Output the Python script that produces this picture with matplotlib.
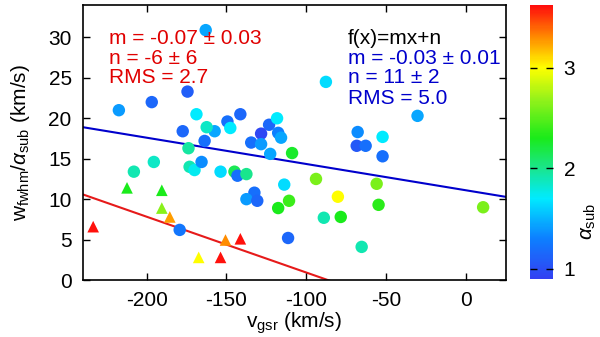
import numpy as np
import matplotlib
matplotlib.use("Agg")
import matplotlib.pyplot as plt
from matplotlib.colors import LinearSegmentedColormap, Normalize

plt.rcParams['font.family'] = ['Liberation Sans', 'DejaVu Sans']
plt.rcParams['mathtext.fontset'] = 'custom'
plt.rcParams['mathtext.rm'] = 'Liberation Sans'
plt.rcParams['mathtext.it'] = 'Liberation Sans:italic'
plt.rcParams['mathtext.sf'] = 'Liberation Sans'
plt.rcParams['axes.unicode_minus'] = False

# circles: v_gsr, w/alpha, alpha_sub
circ_x = [-163.0, -217.4, -196.8, -174.4, -87.7, -30.3, -168.8, -141.3, -149.4, -147.6,
          -123.3, -118.3, -128.3, -117.6, -115.8, -134.5, -128.3, -157.4, -162.4, -177.4,
          -163.7, -173.8, -67.8, -52.2, -68.4, -62.8, -52.2, -55.9, -54.7, 10.8,
          -65.3, -122.6, -108.9, -145.0, -143.1, -137.5, -113.8, -93.9, -132.5, -137.5,
          -130.7, -117.6, -110.8, -80.2, -89.0, -78.4, -111.4, -208.0, -195.5, -173.1,
          -170.0, -165.6, -153.7, -179.3]
circ_y = [30.9, 21.0, 22.0, 23.3, 24.5, 20.3, 20.5, 20.5, 19.6, 18.8,
          19.2, 20.0, 18.1, 18.2, 17.6, 17.0, 16.8, 18.4, 18.9, 18.4,
          17.2, 16.3, 18.3, 17.7, 16.6, 16.6, 15.3, 11.9, 9.3, 9.0,
          4.1, 15.6, 15.7, 13.4, 12.9, 13.1, 11.8, 12.5, 10.8, 10.0,
          9.8, 8.9, 9.8, 10.3, 7.7, 7.8, 5.2, 13.4, 14.6, 14.0,
          13.6, 14.6, 13.4, 6.2]
circ_c = [1.45, 1.4, 1.15, 1.1, 1.65, 1.45, 1.7, 1.15, 1.2, 1.7,
          1.15, 1.7, 0.95, 1.3, 1.45, 1.2, 1.4, 1.45, 1.85, 1.15,
          1.2, 1.95, 1.35, 1.7, 1.05, 1.2, 1.2, 2.6, 2.35, 2.6,
          1.9, 1.45, 2.25, 2.15, 1.2, 2.0, 1.65, 2.6, 1.2, 1.4,
          1.15, 2.3, 2.4, 3.0, 1.9, 2.3, 1.15, 1.9, 1.85, 1.9,
          1.75, 1.35, 1.65, 1.25]

# triangles
tri_x = [-233.5, -212.3, -190.5, -190.5, -185.5, -167.4, -153.7, -150.6, -141.3]
tri_y = [6.6, 11.4, 11.1, 8.9, 7.8, 2.8, 2.8, 4.95, 5.1]
tri_c = [3.6, 2.3, 2.3, 2.65, 3.25, 3.0, 3.6, 3.3, 3.6]

# fits
fit_all_m, fit_all_n = -0.0325, 11.1
fit_tri_m, fit_tri_n = -0.069, -5.97

red_text = ["m = -0.07 \u00b1 0.03", "n = -6 \u00b1 6", "RMS = 2.7"]
blue_text = ["m = -0.03 \u00b1 0.01", "n = 11 \u00b1 2", "RMS = 5.0"]

cvmin, cvmax = 0.9, 3.62
nodes = [(0.9, (0.2, 0.25, 0.95)), (1.3, (0.05, 0.5, 1.0)), (1.7, (0.0, 0.92, 1.0)),
         (2.0, (0.1, 0.9, 0.55)), (2.3, (0.1, 0.92, 0.1)), (2.7, (0.6, 0.95, 0.1)),
         (3.0, (1.0, 1.0, 0.0)), (3.3, (1.0, 0.55, 0.0)), (3.62, (1.0, 0.05, 0.05))]
cmap = LinearSegmentedColormap.from_list(
    'gp', [((v - cvmin) / (cvmax - cvmin), c) for v, c in nodes])
norm = Normalize(cvmin, cvmax)

FS = 15

fig = plt.figure(figsize=(6.0, 3.37), dpi=100)
ax = fig.add_axes([0.138, 0.169, 0.705, 0.816])

xlim = (-240, 25)
ax.set_xlim(*xlim)
ax.set_ylim(0, 34)

xx = np.array(xlim)
ax.plot(xx, fit_all_m * xx + fit_all_n, color=(0.0, 0.0, 0.8), lw=1.5, zorder=1)
ax.plot(xx, fit_tri_m * xx + fit_tri_n, color=(0.9, 0.1, 0.1), lw=1.5, zorder=1)

sc = ax.scatter(circ_x, circ_y, c=circ_c, cmap=cmap, norm=norm, s=80, marker='o',
                edgecolors='none', zorder=3)
ax.scatter(tri_x, tri_y, c=tri_c, cmap=cmap, norm=norm, s=70, marker='^',
           edgecolors='none', zorder=3)

ax.set_xticks([-200, -150, -100, -50, 0])
ax.set_yticks([0, 5, 10, 15, 20, 25, 30])
ax.tick_params(direction='in', top=True, right=True, labelsize=FS, length=5, width=1,
               pad=8)
for sp in ax.spines.values():
    sp.set_linewidth(1.2)

ax.set_xlabel(r'v$_\mathrm{gsr}$ (km/s)', fontsize=FS, labelpad=0)
ax.set_ylabel(r'w$_\mathrm{fwhm}$/$\alpha_\mathrm{sub}$ (km/s)', fontsize=FS, labelpad=12)

rows = [0.88, 0.807, 0.735, 0.662]
for i, t in enumerate(red_text):
    ax.text(0.0615, rows[i], t, color=(0.88, 0.0, 0.0), fontsize=FS,
            transform=ax.transAxes, va='center', ha='left')
ax.text(0.626, rows[0], "f(x)=mx+n", color='black', fontsize=FS,
        transform=ax.transAxes, va='center', ha='left')
for i, t in enumerate(blue_text):
    ax.text(0.626, rows[i + 1], t, color=(0.0, 0.0, 0.8), fontsize=FS,
            transform=ax.transAxes, va='center', ha='left')

cax = fig.add_axes([0.883, 0.172, 0.038, 0.813])
cb = fig.colorbar(sc, cax=cax)
cb.outline.set_visible(False)
cb.set_ticks([1, 2, 3])
cax.tick_params(labelsize=FS, direction='in', length=5, width=1, left=True, right=True,
                color='black', pad=8)
cb.set_label(r'$\alpha_\mathrm{sub}$', fontsize=FS)
cax.yaxis.set_label_coords(2.15, 0.21)

fig.savefig('out.png', dpi=100)
